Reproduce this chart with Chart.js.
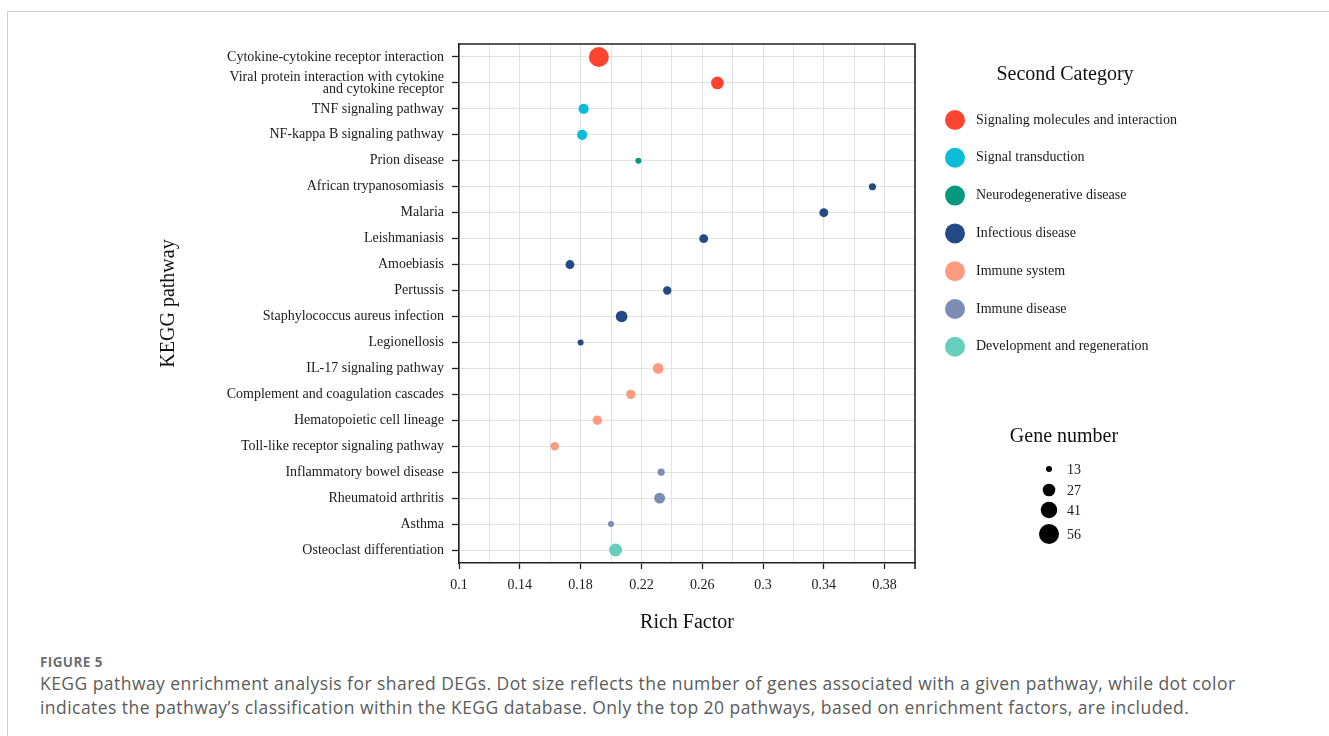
<!DOCTYPE html>
<html><head><meta charset="utf-8">
<script src="https://cdn.jsdelivr.net/npm/chart.js@4.4.1/dist/chart.umd.min.js"></script>
<style>
html,body{margin:0;padding:0;background:#fff;}
body{width:1329px;height:736px;position:relative;overflow:hidden;}
#frame{position:absolute;left:7px;top:11px;right:-2px;bottom:-2px;border-top:1px solid #cfcfcf;border-left:1px solid #cfcfcf;}
#c{position:absolute;left:0;top:0;}
#fig{position:absolute;left:40px;top:653px;font-family:'Open Sans';font-weight:700;font-size:13.5px;letter-spacing:0.4px;line-height:18px;color:#707070;}
#cap{position:absolute;left:40px;top:671px;width:1285px;font-family:'Open Sans';font-size:17.5px;letter-spacing:0.45px;line-height:24px;color:#5b5b5b;white-space:nowrap;}
</style></head><body>
<div id="frame"></div>
<canvas id="c" width="1329" height="650"></canvas>
<div id="fig">FIGURE 5</div>
<div id="cap">KEGG pathway enrichment analysis for shared DEGs. Dot size reflects the number of genes associated with a given pathway, while dot color<br>indicates the pathway’s classification within the KEGG database. Only the top 20 pathways, based on enrichment factors, are included.</div>
<script>
const pathways = [
  'Cytokine-cytokine receptor interaction',
  'Viral protein interaction with cytokine\nand cytokine receptor',
  'TNF signaling pathway',
  'NF-kappa B signaling pathway',
  'Prion disease',
  'African trypanosomiasis',
  'Malaria',
  'Leishmaniasis',
  'Amoebiasis',
  'Pertussis',
  'Staphylococcus aureus infection',
  'Legionellosis',
  'IL-17 signaling pathway',
  'Complement and coagulation cascades',
  'Hematopoietic cell lineage',
  'Toll-like receptor signaling pathway',
  'Inflammatory bowel disease',
  'Rheumatoid arthritis',
  'Asthma',
  'Osteoclast differentiation'
];
const richFactor = [0.192, 0.270, 0.182, 0.181, 0.218, 0.372, 0.340, 0.261, 0.173, 0.237, 0.207, 0.180, 0.231, 0.213, 0.191, 0.163, 0.233, 0.232, 0.200, 0.203];
const geneCount  = [56, 27, 20, 20, 13, 14, 17, 17, 17, 16, 24, 13, 21, 18, 18, 16, 14, 22, 13, 28];
const categoryIndex = [0, 0, 1, 1, 2, 3, 3, 3, 3, 3, 3, 3, 4, 4, 4, 4, 5, 5, 5, 6];
const categories = [
  'Signaling molecules and interaction',
  'Signal transduction',
  'Neurodegenerative disease',
  'Infectious disease',
  'Immune system',
  'Immune disease',
  'Development and regeneration'
];
const categoryColors = ['#ff4530', '#0bbcd8', '#07997f', '#244a85', '#fd9a80', '#7b8db5', '#66cfbc'];
const xTickLabels = ['0.1', '0.14', '0.18', '0.22', '0.26', '0.3', '0.34', '0.38'];
const geneLegendValues = [13, 27, 41, 56];

const GMIN = 13, GMAX = 56, RMIN = 3, RMAX = 10;
function sizeOf(n) {
  const t = Math.max(0, Math.min(1, (n - GMIN) / (GMAX - GMIN)));
  return RMIN + (RMAX - RMIN) * Math.pow(t, 0.66);
}
const SERIF = "'Liberation Serif', 'Times New Roman', serif";
const fmt = v => (+(+v).toFixed(2)).toString();

const datasets = categories.map((name, ci) => ({
  label: name,
  backgroundColor: categoryColors[ci],
  hoverBackgroundColor: categoryColors[ci],
  borderWidth: 0,
  hoverBorderWidth: 0,
  data: pathways.map((p, i) => ({ x: richFactor[i], y: i, r: sizeOf(geneCount[i]) }))
                .filter((d, i) => categoryIndex[i] === ci)
}));

const framePlugin = {
  id: 'frame',
  afterDatasetsDraw(chart) {
    const { ctx, chartArea: a } = chart;
    ctx.save();
    ctx.strokeStyle = '#222';
    ctx.lineWidth = 1.6;
    ctx.beginPath();
    ctx.moveTo(a.left, a.top); ctx.lineTo(a.right, a.top); ctx.lineTo(a.right, a.bottom + 6);
    ctx.stroke();
    ctx.restore();
  }
};

const legendPlugin = {
  id: 'customLegends',
  afterDraw(chart) {
    const ctx = chart.ctx;
    ctx.save();
    ctx.fillStyle = '#111';
    ctx.textAlign = 'center';
    ctx.textBaseline = 'middle';
    ctx.font = '20px ' + SERIF;
    ctx.fillText('Second Category', 1065, 75);
    ctx.font = '14px ' + SERIF;
    categories.forEach((name, i) => {
      const y = 120 + i * 37.8;
      ctx.beginPath();
      ctx.arc(955, y, 10, 0, Math.PI * 2);
      ctx.fillStyle = categoryColors[i];
      ctx.fill();
      ctx.fillStyle = '#1a1a1a';
      ctx.textAlign = 'left';
      ctx.fillText(name, 976, y);
    });
    ctx.textAlign = 'center';
    ctx.font = '20px ' + SERIF;
    ctx.fillStyle = '#111';
    ctx.fillText('Gene number', 1064, 437);
    const ys = [469, 490, 510, 534];
    ctx.font = '14px ' + SERIF;
    geneLegendValues.forEach((g, i) => {
      ctx.beginPath();
      ctx.arc(1049, ys[i], sizeOf(g), 0, Math.PI * 2);
      ctx.fillStyle = '#000';
      ctx.fill();
      ctx.fillStyle = '#1a1a1a';
      ctx.textAlign = 'left';
      ctx.fillText(String(g), 1067, ys[i] + 1);
    });
    ctx.restore();
  }
};

new Chart(document.getElementById('c'), {
  type: 'bubble',
  data: { datasets },
  plugins: [framePlugin, legendPlugin],
  options: {
    responsive: false,
    animation: false,
    events: [],
    layout: { padding: { left: 150, right: 414, top: 44, bottom: 0 } },
    plugins: { legend: { display: false }, tooltip: { enabled: false } },
    scales: {
      x: {
        type: 'linear', min: 0.1, max: 0.4,
        afterBuildTicks: s => { s.ticks = Array.from({ length: 16 }, (_, i) => ({ value: +(0.1 + 0.02 * i).toFixed(2) })); },
        afterFit: s => { s.height = 87; },
        ticks: {
          autoSkip: false, maxRotation: 0, minRotation: 0, padding: 8, color: '#1a1a1a',
          font: { family: SERIF, size: 14 },
          callback: v => xTickLabels.includes(fmt(v)) ? fmt(v) : ''
        },
        grid: {
          color: '#e2e2e2', lineWidth: 1, tickLength: 6, tickWidth: 1.3,
          tickColor: c => (xTickLabels.includes(fmt(c.tick.value))) ? '#222' : 'rgba(0,0,0,0)'
        },
        border: { color: '#222', width: 1.6 },
        title: { display: true, text: 'Rich Factor', color: '#111', font: { family: SERIF, size: 20 }, padding: { top: 0, bottom: 15 } }
      },
      y: {
        type: 'linear', min: -0.5, max: 19.5, reverse: true,
        afterBuildTicks: s => { s.ticks = pathways.map((_, i) => ({ value: i })); },
        afterFit: s => { s.width = 309; },
        ticks: {
          autoSkip: false, padding: 8, color: '#1a1a1a',
          font: { family: SERIF, size: 14, lineHeight: 0.86 },
          callback: v => pathways[v] !== undefined ? pathways[v].split('\n') : ''
        },
        grid: { color: '#e2e2e2', lineWidth: 1, tickLength: 7, tickWidth: 1.3, tickColor: '#222' },
        border: { color: '#222', width: 1.6 },
        title: { display: true, text: 'KEGG pathway', color: '#111', font: { family: SERIF, size: 20 }, padding: { top: 7, bottom: 0 } }
      }
    }
  }
});
</script>
</body></html>
